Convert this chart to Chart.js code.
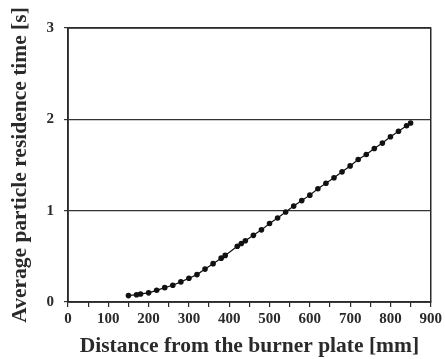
<!DOCTYPE html>
<html>
<head>
<meta charset="utf-8">
<script src="https://cdn.jsdelivr.net/npm/chart.js@4"></script>
<style>
  html, body { margin: 0; padding: 0; background: #fff; }
  #wrap { width: 445px; height: 359px; }
</style>
</head>
<body>
<div id="wrap"><canvas id="residence-chart"></canvas></div>
<script>
// distance from burner plate [mm]
var distances = [150, 170, 180, 200, 220, 240, 260, 280, 300, 320, 340, 360, 380, 390,
  420, 430, 440, 460, 480, 500, 520, 540, 560, 580, 600, 620, 640, 660, 680, 700,
  720, 740, 760, 780, 800, 820, 840, 850]
// average particle residence time [s]
var residenceTimes = [0.07, 0.08, 0.088, 0.10, 0.128, 0.157, 0.183, 0.22, 0.26, 0.30, 0.36, 0.42, 0.48, 0.51,
  0.61, 0.64, 0.67, 0.73, 0.79, 0.86, 0.92, 0.985, 1.05, 1.11, 1.17, 1.24, 1.30, 1.36, 1.425, 1.49,
  1.56, 1.615, 1.68, 1.74, 1.81, 1.87, 1.93, 1.96]
var xTickLabels = ['0', '100', '200', '300', '400', '500', '600', '700', '800', '900']
var yTickLabels = ['0', '1', '2', '3']

var points = distances.map(function (d, i) {
  return { x: d, y: residenceTimes[i] }
})

var serif = "'Liberation Serif', 'Times New Roman', serif"
var ink = '#2a2a2a'

// frame round the plot area
const frameBox = {
  id: 'frameBox',
  afterDraw(chart) {
    const a = chart.chartArea
    const ctx = chart.ctx
    ctx.save()
    ctx.strokeStyle = ink
    ctx.lineWidth = 1.5
    ctx.strokeRect(a.left, a.top, a.right - a.left, a.bottom - a.top)
    ctx.restore()
  }
}

new Chart(document.getElementById('residence-chart'), {
  type: 'scatter',
  data: {
    datasets: [
      {
        data: points,
        showLine: true,
        borderColor: '#111',
        borderWidth: 1.2,
        backgroundColor: '#111',
        pointRadius: 2.8,
        pointBorderWidth: 0,
        tension: 0
      }
    ]
  },
  plugins: [frameBox],
  options: {
    responsive: true,
    maintainAspectRatio: false,
    animation: false,
    layout: {
      padding: { top: 28, right: 11, left: 0, bottom: 0 }
    },
    plugins: {
      legend: { display: false },
      tooltip: { enabled: false }
    },
    scales: {
      x: {
        type: 'linear',
        min: 0,
        max: 900,
        afterFit: function (scale) { scale.height = 57 },
        ticks: {
          stepSize: 50,
          autoSkip: false,
          maxRotation: 0,
          padding: 3,
          color: ink,
          font: { family: serif, size: 15, weight: 'bold' },
          callback: function (value) {
            return value % 100 === 0 ? xTickLabels[value / 100] : ''
          }
        },
        grid: {
          drawOnChartArea: false,
          drawTicks: true,
          tickLength: 5,
          color: ink,
          lineWidth: 1.2
        },
        border: { color: ink, width: 1.5 },
        title: {
          display: true,
          text: 'Distance from the burner plate [mm]',
          color: ink,
          font: { family: serif, size: 21.5, weight: 'bold' },
          padding: { top: 3, bottom: 0 }
        }
      },
      y: {
        min: 0,
        max: 3,
        afterFit: function (scale) { scale.width = 68 },
        ticks: {
          stepSize: 1,
          padding: 10,
          color: ink,
          font: { family: serif, size: 15, weight: 'bold' },
          callback: function (value) {
            return yTickLabels[value]
          }
        },
        grid: {
          drawTicks: true,
          tickLength: 4,
          color: '#333',
          lineWidth: 1.2
        },
        border: { color: ink, width: 1.5 },
        title: {
          display: true,
          text: 'Average particle residence time [s]',
          color: ink,
          font: { family: serif, size: 21.5, weight: 'bold' },
          padding: { top: 8, bottom: 4 }
        }
      }
    }
  }
})
</script>
</body>
</html>
